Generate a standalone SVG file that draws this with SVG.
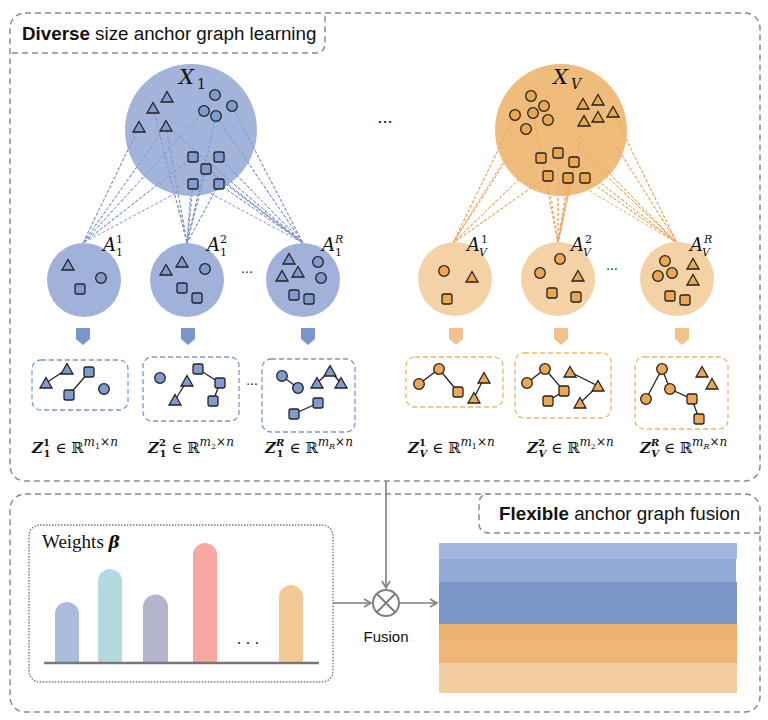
<svg xmlns="http://www.w3.org/2000/svg" xmlns:xlink="http://www.w3.org/1999/xlink" width="768" height="720" viewBox="0 0 768 720">
<style>
.frame{fill:none;stroke:#8a8a8a;stroke-width:1.5;stroke-dasharray:6 4}
.title{font-family:"Liberation Sans",Arial,sans-serif;font-size:18.8px;fill:#111}
.b{fill:#809bd1;stroke:#222;stroke-width:1.3}
.o{fill:#eca753;stroke:#222;stroke-width:1.3}
.edge{stroke:#222;stroke-width:1.3;fill:none}
.dl{stroke:#7b96cc;stroke-width:1;stroke-dasharray:3 2;fill:none}
.do{stroke:#eba65a;stroke-width:1;stroke-dasharray:3 2;fill:none}
.gb{fill:none;stroke:#7b96cc;stroke-width:1.3;stroke-dasharray:5 3}
.go{fill:none;stroke:#f0b46a;stroke-width:1.3;stroke-dasharray:5 3}
.m{font-family:"DejaVu Serif","Liberation Serif",serif;fill:#111}
.mi{font-style:italic}
.mb{font-weight:bold;font-style:italic}
.gray{stroke:#7f7f7f;stroke-width:1.6;fill:none}
</style>
<defs>
<path id="t" d="M0,-5.5L6,5H-6Z"/>
<circle id="c" r="5.3"/>
<rect id="s" x="-5" y="-5" width="10" height="10" rx="2"/>
<marker id="ar" markerWidth="10" markerHeight="10" refX="8" refY="5" orient="auto" markerUnits="userSpaceOnUse">
<path d="M1,1L8,5L1,9" fill="none" stroke="#7f7f7f" stroke-width="1.6"/>
</marker>
</defs>
<rect width="768" height="720" fill="#fff"/>

<!-- frames -->
<g id="frame-top">
<rect class="frame" x="10" y="13" width="750" height="468" rx="15"/>
<path class="frame" d="M12,53H315Q325,53 325,43V13"/>
<text class="title" x="22" y="40"><tspan font-weight="bold">Diverse</tspan> size anchor graph learning</text>
</g>
<g id="frame-bottom">
<rect class="frame" x="10" y="494" width="750" height="218" rx="15"/>
<path class="frame" d="M760,533H489Q479,533 479,523V504Q479,494 489,494"/>
<text class="title" x="499" y="520"><tspan font-weight="bold">Flexible</tspan> anchor graph fusion</text>
</g>

<!-- connectors -->
<g id="connectors">
<g id="dash-blue">
<path class="dl" d="M139,127L83,243M166,126L83,243M204,111L83,243M193,157L83,243M193,184L83,243"/>
<path class="dl" d="M153,108L187,243M166,126L187,243M216,116L187,243M193,184L187,243M206,169L187,243M219,184L187,243M193,157L187,243"/>
<path class="dl" d="M232,106L303,243M216,116L303,243M193,157L303,243M219,157L303,243M206,169L303,243M219,184L303,243M166,126L303,243M193,184L303,243"/>
</g>
<g id="dash-orange">
<path class="do" d="M515,115L453,243M526,129L453,243M541,158L453,243M548,176L453,243M533,113L453,243"/>
<path class="do" d="M533,113L558,243M558,153L558,243M574,162L558,243M568,178L558,243M584,121L558,243M548,176L558,243"/>
<path class="do" d="M598,117L677,243M613,112L677,243M585,178L677,243M544,106L677,243M548,120L677,243M574,162L677,243M568,178L677,243"/>
</g>
<g id="fusion-lines">
<path class="gray" d="M386,481V588" marker-end="url(#ar)"/>
<path class="gray" d="M333,603H371" marker-end="url(#ar)"/>
<path class="gray" d="M400,603H437" marker-end="url(#ar)"/>
</g>
</g>

<!-- big circles -->
<g id="X1">
<circle cx="191" cy="130" r="66" fill="#a0b2da" fill-opacity="0.97"/>
<path class="dl" d="M139,127L83,243M166,126L83,243M204,111L83,243M193,157L83,243M153,108L187,243M166,126L187,243M216,116L187,243M193,184L187,243M206,169L187,243M219,184L187,243M232,106L303,243M216,116L303,243M193,157L303,243M219,157L303,243M206,169L303,243M219,184L303,243M166,126L303,243"/>
<text class="m mi" x="179" y="84" font-size="21">X</text><text class="m" x="197" y="89" font-size="14">1</text>
<g class="b">
<use href="#t" x="167" y="97"/><use href="#t" x="153" y="108"/><use href="#t" x="139" y="127"/><use href="#t" x="166" y="126"/>
<use href="#c" x="215" y="95"/><use href="#c" x="232" y="106"/><use href="#c" x="204" y="111"/><use href="#c" x="216" y="116"/>
<use href="#s" x="193" y="157"/><use href="#s" x="219" y="157"/><use href="#s" x="206" y="169"/><use href="#s" x="193" y="184"/><use href="#s" x="219" y="184"/>
</g>
</g>
<g id="XV">
<circle cx="561" cy="130" r="66" fill="#efbc7c"/>
<path class="do" d="M515,115L453,243M526,129L453,243M541,158L453,243M548,176L453,243M533,113L558,243M558,153L558,243M574,162L558,243M568,178L558,243M584,121L558,243M598,117L677,243M613,112L677,243M585,178L677,243M544,106L677,243M548,120L677,243M574,162L677,243"/>
<text class="m mi" x="553" y="84" font-size="21">X</text><text class="m mi" x="571" y="89" font-size="14">V</text>
<g class="o">
<use href="#c" x="531" y="96"/><use href="#c" x="544" y="106"/><use href="#c" x="515" y="115"/><use href="#c" x="533" y="113"/><use href="#c" x="548" y="120"/><use href="#c" x="526" y="129"/>
<use href="#t" x="583" y="104"/><use href="#t" x="598" y="100"/><use href="#t" x="613" y="112"/><use href="#t" x="584" y="121"/><use href="#t" x="598" y="117"/>
<use href="#s" x="541" y="158"/><use href="#s" x="558" y="153"/><use href="#s" x="574" y="162"/><use href="#s" x="548" y="176"/><use href="#s" x="568" y="178"/><use href="#s" x="585" y="178"/>
</g>
</g>
<text class="m" x="385" y="128" font-size="16" text-anchor="middle">···</text>

<!-- small anchor circles, blue -->
<g id="A11">
<circle cx="84" cy="280" r="37" fill="#a0b2da"/>
<text class="m mi" x="103" y="251" font-size="18">A</text><text class="m" x="116" y="243" font-size="11">1</text><text class="m" x="116" y="256" font-size="11">1</text>
<g class="b"><use href="#t" x="68" y="265"/><use href="#c" x="101" y="278"/><use href="#s" x="80" y="289"/></g>
</g>
<g id="A12">
<circle cx="187" cy="280" r="37" fill="#a0b2da"/>
<text class="m mi" x="207" y="251" font-size="18">A</text><text class="m" x="220" y="243" font-size="11">2</text><text class="m" x="220" y="256" font-size="11">1</text>
<g class="b"><use href="#t" x="166" y="270"/><use href="#t" x="182" y="262"/><use href="#c" x="205" y="269"/><use href="#s" x="182" y="288"/><use href="#s" x="197" y="298"/></g>
</g>
<text class="m" x="247" y="277" font-size="12" fill="#666" text-anchor="middle">···</text>
<g id="A1R">
<circle cx="303" cy="280" r="37" fill="#a0b2da"/>
<text class="m mi" x="322" y="251" font-size="18">A</text><text class="m mi" x="335" y="243" font-size="11">R</text><text class="m" x="335" y="256" font-size="11">1</text>
<g class="b"><use href="#t" x="289" y="259"/><use href="#t" x="282" y="276"/><use href="#t" x="298" y="272"/><use href="#c" x="318" y="262"/><use href="#c" x="321" y="278"/><use href="#s" x="294" y="295"/><use href="#s" x="309" y="299"/></g>
</g>

<!-- small anchor circles, orange -->
<g id="AV1">
<circle cx="455" cy="279" r="37" fill="#f5d2a5"/>
<text class="m mi" x="467" y="251" font-size="18">A</text><text class="m" x="481" y="243" font-size="11">1</text><text class="m mi" x="479" y="256" font-size="11">V</text>
<g class="o"><use href="#c" x="444" y="271"/><use href="#t" x="472" y="277"/><use href="#s" x="447" y="299"/></g>
</g>
<g id="AV2">
<circle cx="558" cy="279" r="37" fill="#f5d2a5"/>
<text class="m mi" x="571" y="251" font-size="18">A</text><text class="m" x="585" y="243" font-size="11">2</text><text class="m mi" x="583" y="256" font-size="11">V</text>
<g class="o"><use href="#c" x="540" y="273"/><use href="#c" x="560" y="259"/><use href="#t" x="578" y="276"/><use href="#s" x="552" y="293"/><use href="#s" x="576" y="297"/></g>
</g>
<text class="m" x="612" y="274" font-size="12" fill="#666" text-anchor="middle">···</text>
<g id="AVR">
<circle cx="677" cy="279" r="37" fill="#f5d2a5"/>
<text class="m mi" x="690" y="251" font-size="18">A</text><text class="m mi" x="704" y="243" font-size="11">R</text><text class="m mi" x="702" y="256" font-size="11">V</text>
<g class="o"><use href="#c" x="665" y="261"/><use href="#c" x="658" y="276"/><use href="#c" x="672" y="273"/><use href="#t" x="693" y="264"/><use href="#t" x="693" y="280"/><use href="#s" x="670" y="296"/><use href="#s" x="685" y="300"/></g>
</g>

<!-- down arrows -->
<g id="down-arrows">
<path fill="#7b96cc" d="M76,328H90V339L83,345L76,339Z"/>
<path fill="#7b96cc" d="M181,328H195V339L188,345L181,339Z"/>
<path fill="#7b96cc" d="M301,328H315V339L308,345L301,339Z"/>
<path fill="#f2c28e" d="M449,328H463V339L456,345L449,339Z"/>
<path fill="#f2c28e" d="M554,328H568V339L561,345L554,339Z"/>
<path fill="#f2c28e" d="M675,328H689V339L682,345L675,339Z"/>
</g>

<!-- graph boxes blue -->
<g id="Z11">
<rect class="gb" x="32" y="360" width="96" height="50" rx="9"/>
<path class="edge" d="M46,383L67,369M89,372L69,395"/>
<g class="b"><use href="#t" x="46" y="383"/><use href="#t" x="67" y="369"/><use href="#s" x="89" y="372"/><use href="#s" x="69" y="395"/><use href="#c" x="104" y="389"/></g>
</g>
<g id="Z12">
<rect class="gb" x="143" y="357" width="96" height="64" rx="9"/>
<path class="edge" d="M187,381L175,400M198,369L220,383L213,401"/>
<g class="b"><use href="#c" x="160" y="378"/><use href="#t" x="187" y="381"/><use href="#t" x="175" y="400"/><use href="#s" x="198" y="369"/><use href="#s" x="220" y="383"/><use href="#s" x="213" y="401"/></g>
</g>
<text class="m" x="252" y="389" font-size="12" fill="#666" text-anchor="middle">···</text>
<g id="Z1R">
<rect class="gb" x="262" y="359" width="93" height="73" rx="9"/>
<path class="edge" d="M282,376L298,388M317,383L330,371L341,383M294,414L318,403"/>
<g class="b"><use href="#c" x="282" y="376"/><use href="#c" x="298" y="388"/><use href="#t" x="317" y="383"/><use href="#t" x="330" y="371"/><use href="#t" x="341" y="383"/><use href="#s" x="294" y="414"/><use href="#s" x="318" y="403"/></g>
</g>

<!-- graph boxes orange -->
<g id="ZV1">
<rect class="go" x="406" y="357" width="97" height="50" rx="9"/>
<path class="edge" d="M419,384L439,369L458,392M484,378L474,398"/>
<g class="o"><use href="#c" x="419" y="384"/><use href="#c" x="439" y="369"/><use href="#s" x="458" y="392"/><use href="#t" x="484" y="378"/><use href="#t" x="474" y="398"/></g>
</g>
<g id="ZV2">
<rect class="go" x="515" y="353" width="96" height="65" rx="9"/>
<path class="edge" d="M527,383L545,369L564,391L548,401M570,372L598,386L580,403"/>
<g class="o"><use href="#c" x="527" y="383"/><use href="#c" x="545" y="369"/><use href="#s" x="564" y="391"/><use href="#s" x="548" y="401"/><use href="#t" x="570" y="372"/><use href="#t" x="598" y="386"/><use href="#t" x="580" y="403"/></g>
</g>
<g id="ZVR">
<rect class="go" x="635" y="357" width="93" height="72" rx="9"/>
<path class="edge" d="M646,399L662,369L670,389L692,399L699,419"/>
<g class="o"><use href="#c" x="646" y="399"/><use href="#c" x="662" y="369"/><use href="#c" x="670" y="389"/><use href="#s" x="692" y="399"/><use href="#s" x="699" y="419"/><use href="#t" x="702" y="372"/><use href="#t" x="712" y="384"/></g>
</g>

<!-- formula labels -->
<g id="labels" class="m" font-size="15">
<text x="32" y="453"><tspan class="mb">Z</tspan><tspan font-size="10" font-weight="bold" dy="-7">1</tspan><tspan font-size="10" font-weight="bold" dx="-6.4" dy="11">1</tspan><tspan dy="-4"> ∈ ℝ</tspan><tspan class="mi" font-size="12" dy="-7">m</tspan><tspan font-size="8" dy="3">1</tspan><tspan font-size="12" dy="-3">×</tspan><tspan class="mi" font-size="12">n</tspan></text>
<text x="148" y="453"><tspan class="mb">Z</tspan><tspan font-size="10" font-weight="bold" dy="-7">2</tspan><tspan font-size="10" font-weight="bold" dx="-6.4" dy="11">1</tspan><tspan dy="-4"> ∈ ℝ</tspan><tspan class="mi" font-size="12" dy="-7">m</tspan><tspan font-size="8" dy="3">2</tspan><tspan font-size="12" dy="-3">×</tspan><tspan class="mi" font-size="12">n</tspan></text>
<text x="265" y="453"><tspan class="mb">Z</tspan><tspan class="mb" font-size="10" dy="-7">R</tspan><tspan font-size="10" font-weight="bold" dx="-7.7" dy="11">1</tspan><tspan dy="-4" dx="1"> ∈ ℝ</tspan><tspan class="mi" font-size="12" dy="-7">m</tspan><tspan class="mi" font-size="8" dy="3">R</tspan><tspan font-size="12" dy="-3">×</tspan><tspan class="mi" font-size="12">n</tspan></text>
<text x="408" y="453"><tspan class="mb">Z</tspan><tspan font-size="10" font-weight="bold" dy="-7">1</tspan><tspan class="mb" font-size="10" dx="-6.4" dy="11">V</tspan><tspan dy="-4"> ∈ ℝ</tspan><tspan class="mi" font-size="12" dy="-7">m</tspan><tspan font-size="8" dy="3">1</tspan><tspan font-size="12" dy="-3">×</tspan><tspan class="mi" font-size="12">n</tspan></text>
<text x="527" y="453"><tspan class="mb">Z</tspan><tspan font-size="10" font-weight="bold" dy="-7">2</tspan><tspan class="mb" font-size="10" dx="-6.4" dy="11">V</tspan><tspan dy="-4"> ∈ ℝ</tspan><tspan class="mi" font-size="12" dy="-7">m</tspan><tspan font-size="8" dy="3">2</tspan><tspan font-size="12" dy="-3">×</tspan><tspan class="mi" font-size="12">n</tspan></text>
<text x="640" y="453"><tspan class="mb">Z</tspan><tspan class="mb" font-size="10" dy="-7">R</tspan><tspan class="mb" font-size="10" dx="-7.7" dy="11">V</tspan><tspan dy="-4"> ∈ ℝ</tspan><tspan class="mi" font-size="12" dy="-7">m</tspan><tspan class="mi" font-size="8" dy="3">R</tspan><tspan font-size="12" dy="-3">×</tspan><tspan class="mi" font-size="12">n</tspan></text>
</g>

<!-- weights -->
<g id="weights">
<rect x="29" y="525" width="304" height="157" rx="11" fill="none" stroke="#777" stroke-width="1.4" stroke-dasharray="1.5 1.5"/>
<text x="42" y="548" font-family="Liberation Serif,serif" font-size="19" fill="#111">Weights <tspan font-family="DejaVu Serif,serif" font-weight="bold" font-style="italic" font-size="17">β</tspan></text>
<path d="M55,663V614A12,12 0 0 1 79,614V663Z" fill="#aabbdb"/>
<path d="M98,663V581A12,12 0 0 1 122,581V663Z" fill="#b2dade"/>
<path d="M143,663V607A12,12 0 0 1 168,607V663Z" fill="#b3b5cd"/>
<path d="M193,663V555A12,12 0 0 1 217,555V663Z" fill="#f5a9a1"/>
<path d="M279,663V597A12,12 0 0 1 303,597V663Z" fill="#f3c995"/>
<text class="m" x="248" y="648" font-size="14" text-anchor="middle">· · ·</text>
<path d="M44,663H319" stroke="#777" stroke-width="2.5"/>
</g>

<!-- fusion -->
<g id="fusion">
<circle cx="386" cy="603" r="13" fill="#fff" stroke="#7f7f7f" stroke-width="2"/>
<path d="M376.8,593.8L395.2,612.2M395.2,593.8L376.8,612.2" stroke="#7f7f7f" stroke-width="2"/>
<text x="386" y="642" font-family="Liberation Sans,Arial,sans-serif" font-size="15" text-anchor="middle" fill="#111">Fusion</text>
</g>

<!-- stacked output -->
<g id="stack">
<rect x="439" y="543" width="298" height="16" fill="#a4b5de"/>
<rect x="439" y="559" width="297" height="23" fill="#92a9d6"/>
<rect x="439" y="582" width="298" height="42" fill="#7a96c8"/>
<rect x="439" y="624" width="298" height="17" fill="#ecb272"/>
<rect x="439" y="641" width="298" height="22" fill="#eeb777"/>
<rect x="439" y="663" width="298" height="30" fill="#f3cd9e"/>
</g>
</svg>
